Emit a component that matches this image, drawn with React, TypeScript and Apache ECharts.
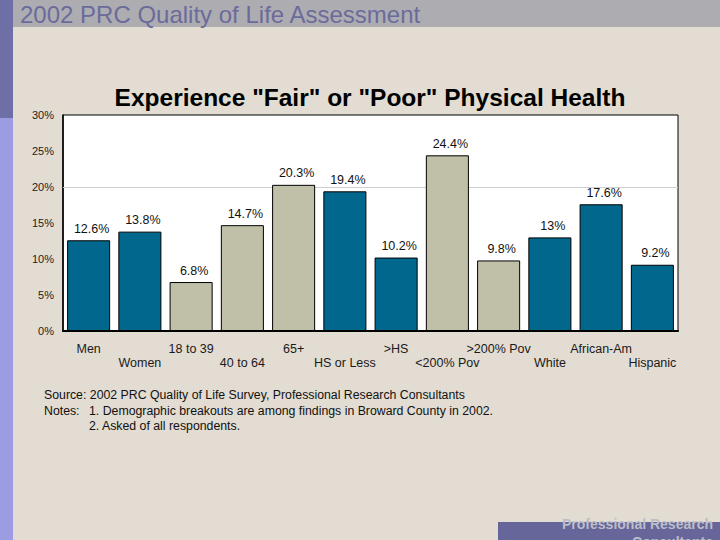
import { useEffect, useRef } from 'react';
import * as echarts from 'echarts';

const categories = [
    'Men', 'Women', '18 to 39', '40 to 64', '65+', 'HS or Less',
    '>HS', '<200% Pov', '>200% Pov', 'White', 'African-Am', 'Hispanic'
];
const values = [12.6, 13.8, 6.8, 14.7, 20.3, 19.4, 10.2, 24.4, 9.8, 13, 17.6, 9.2];
const valueLabels = ['12.6%', '13.8%', '6.8%', '14.7%', '20.3%', '19.4%', '10.2%', '24.4%', '9.8%', '13%', '17.6%', '9.2%'];
// which bars are drawn in the grey-green shade (age and income groups)
const greyBars = [false, false, true, true, true, false, false, true, true, false, false, false];
const yTicks = [0, 5, 10, 15, 20, 25, 30];

const FONT = 'Arial, "Liberation Sans", sans-serif';
const BLUE = '#01678c';
const GREY = '#c0c0a9';

export default function App() {
    const chartRef = useRef<HTMLDivElement>(null);

    useEffect(() => {
        if (!chartRef.current) return;
        const chart = echarts.init(chartRef.current, null, { renderer: 'svg' });

        const option: echarts.EChartsOption = {
            animation: false,
            backgroundColor: '#e2dcd2',
            textStyle: { fontFamily: FONT },
            grid: {
                left: 63,
                top: 115,
                width: 615,
                height: 216,
                show: true,
                backgroundColor: '#ffffff',
                borderColor: '#000',
                borderWidth: 1
            },
            xAxis: {
                type: 'category',
                data: categories,
                axisLine: { show: true, lineStyle: { color: '#000', width: 2 } },
                axisTick: { show: false },
                axisLabel: {
                    interval: 0,
                    margin: 11,
                    fontSize: 12.5,
                    lineHeight: 14,
                    color: '#1a1a1a',
                    fontFamily: FONT,
                    formatter: (v: string, i: number) => (i % 2 === 1 ? '\n' + v : v)
                }
            },
            yAxis: {
                type: 'value',
                min: yTicks[0],
                max: yTicks[yTicks.length - 1],
                interval: 5,
                axisLine: { show: true, lineStyle: { color: '#000', width: 1.5 } },
                axisTick: { show: false },
                splitLine: { show: false },
                axisLabel: {
                    formatter: '{value}%',
                    fontSize: 11,
                    margin: 9,
                    color: '#222',
                    fontFamily: FONT
                }
            },
            series: [
                {
                    type: 'bar',
                    barCategoryGap: '16%',
                    data: values.map((v, i) => ({
                        value: v,
                        itemStyle: { color: greyBars[i] ? GREY : BLUE }
                    })),
                    itemStyle: { borderColor: '#000', borderWidth: 1 },
                    label: {
                        show: true,
                        position: 'top',
                        distance: 5,
                        offset: [3, 0],
                        fontSize: 12.5,
                        color: '#111',
                        fontFamily: FONT,
                        formatter: (p: any) => valueLabels[p.dataIndex]
                    },
                    markLine: {
                        silent: true,
                        z: 1,
                        symbol: 'none',
                        label: { show: false },
                        lineStyle: { color: '#cfcfcf', width: 1, type: 'solid' },
                        data: [{ yAxis: 20 }]
                    }
                }
            ],
            graphic: [
                // slide header band and left strip
                { type: 'rect', left: 13, top: 0, shape: { width: 707, height: 27 }, style: { fill: '#adadb1' } },
                { type: 'rect', left: 0, top: 0, shape: { width: 13, height: 118 }, style: { fill: '#6f6fa7' } },
                { type: 'rect', left: 0, top: 118, shape: { width: 13, height: 422 }, style: { fill: '#9c9ce2' } },
                {
                    type: 'text', x: 20, y: 14,
                    style: {
                        text: '2002 PRC Quality of Life Assessment', fill: '#6b6b9b',
                        font: `24px ${FONT}`, textVerticalAlign: 'middle'
                    }
                },
                {
                    type: 'text', x: 370, y: 97,
                    style: {
                        text: 'Experience "Fair" or "Poor" Physical Health',
                        fill: '#000', font: `bold 24.5px ${FONT}`,
                        textAlign: 'center', textVerticalAlign: 'middle'
                    }
                },
                {
                    type: 'text', left: 44, top: 389,
                    style: {
                        text: 'Source: 2002 PRC Quality of Life Survey, Professional Research Consultants',
                        fill: '#111', font: `12.3px ${FONT}`
                    }
                },
                {
                    type: 'text', left: 44, top: 403,
                    style: { text: 'Notes:', fill: '#111', font: `12.3px ${FONT}`, lineHeight: 15 }
                },
                {
                    type: 'text', left: 89, top: 403,
                    style: {
                        text: '1. Demographic breakouts are among findings in Broward County in 2002.\n2. Asked of all respondents.',
                        fill: '#111', font: `12.3px ${FONT}`, lineHeight: 15
                    }
                },
                // footer box
                { type: 'rect', left: 498, top: 522, shape: { width: 222, height: 18 }, style: { fill: '#66669a' } },
                {
                    type: 'text', x: 713, y: 515,
                    style: {
                        text: 'Professional Research\nConsultants',
                        fill: '#bdbdc8', font: `bold 14px ${FONT}`,
                        textAlign: 'right', lineHeight: 18
                    }
                }
            ]
        };

        chart.setOption(option);
        return () => chart.dispose();
    }, []);

    return (
        <div
            ref={chartRef}
            style={{ position: 'fixed', left: 0, top: 0, width: '720px', height: '540px' }}
        />
    );
}
